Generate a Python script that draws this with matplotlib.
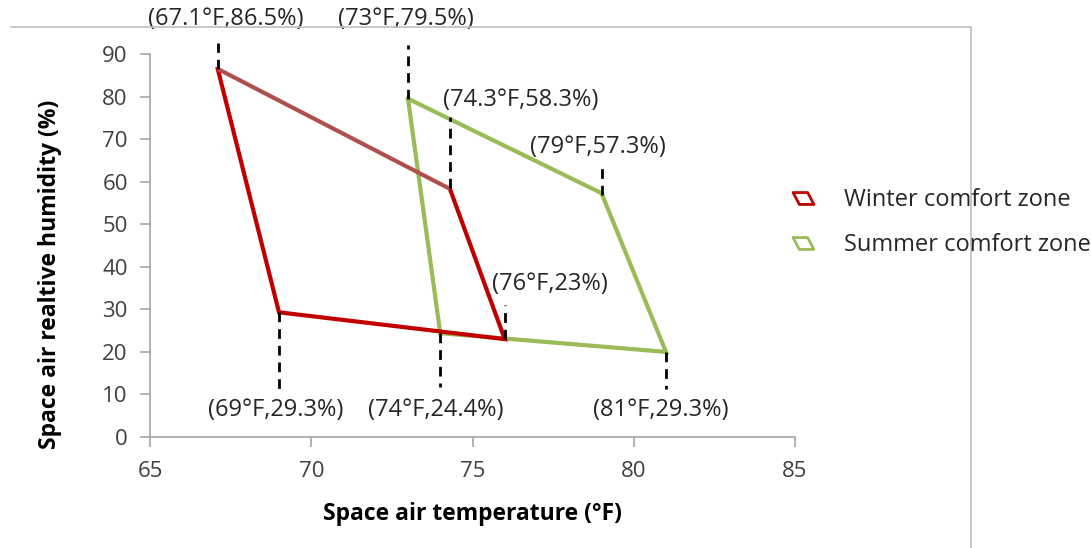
import matplotlib
matplotlib.use("Agg")
import matplotlib.pyplot as plt
from matplotlib.lines import Line2D
from matplotlib.path import Path

plt.rcParams['font.family'] = ['Open Sans', 'DejaVu Sans']

# Winter comfort zone corners (temperature °F, RH %)
winter_t = [67.1, 69.0, 76.0, 74.3]
winter_rh = [86.5, 29.3, 23.0, 58.3]
# Summer comfort zone corners
summer_t = [73.0, 79.0, 81.0, 74.0]
summer_rh = [79.5, 57.3, 20.0, 24.4]

# Annotation labels
labels = ["(67.1°F,86.5%)", "(73°F,79.5%)", "(74.3°F,58.3%)", "(79°F,57.3%)",
          "(76°F,23%)", "(69°F,29.3%)", "(74°F,24.4%)", "(81°F,29.3%)"]
label_x = [67.36, 72.94, 76.5, 78.9, 77.4, 68.9, 73.87, 80.85]
label_y = [98.2, 98.2, 79.2, 68.1, 35.9, 6.3, 6.3, 6.3]

# Dashed leader lines: x, y-start, y-end
lead_x = [67.1, 73.0, 74.3, 79.0, 76.0, 69.0, 74.0, 81.0]
lead_y0 = [86.5, 79.5, 58.5, 56.9, 23.0, 29.3, 24.4, 20.0]
lead_y1 = [92.6, 92.1, 75.2, 63.2, 31.0, 10.8, 11.7, 11.3]

legend_labels = ["Winter comfort zone", "Summer comfort zone"]

RED = '#C00000'
BROWN = '#B0504D'
GREEN = '#9BBB59'
W, H = 1091, 548

fig = plt.figure(figsize=(W/100, H/100), dpi=100)
ax = fig.add_axes([150/W, 1-437/H, 645/W, 383/H])

# Summer zone (drawn first)
st = summer_t + [summer_t[0]]
sr = summer_rh + [summer_rh[0]]
ax.plot(st, sr, color=GREEN, lw=3, solid_joinstyle='miter', zorder=2)

# Winter zone
ax.plot(winter_t, winter_rh, color=RED, lw=3, solid_joinstyle='miter', zorder=3)
ax.plot([winter_t[3], winter_t[0]], [winter_rh[3], winter_rh[0]], color=BROWN, lw=3,
        solid_capstyle='butt', zorder=3)

for x, y0, y1 in zip(lead_x, lead_y0, lead_y1):
    ax.plot([x, x], [y0, y1], color='black', lw=2.0, ls=(0, (3.5, 2.5)), clip_on=False, zorder=4)

for s, x, y in zip(labels, label_x, label_y):
    ax.text(x, y, s, ha='center', va='center', fontsize=17, color='#262626', clip_on=False)

ax.set_xlim(65, 85)
ax.set_ylim(0, 90)
ax.set_xticks([65, 70, 75, 80, 85])
ax.set_yticks(range(0, 91, 10))
for sp in ['top', 'right']:
    ax.spines[sp].set_visible(False)
for sp in ['left', 'bottom']:
    ax.spines[sp].set_color('#A6A6A6')
    ax.spines[sp].set_linewidth(1.2)
ax.tick_params(axis='both', colors='#A6A6A6', labelcolor='#404040', labelsize=16,
               length=7, width=1.2)
ax.tick_params(axis='x', pad=10)
ax.tick_params(axis='y', pad=9)
ax.set_xlabel("Space air temperature (°F)", fontsize=16.5, fontweight='bold')
ax.set_ylabel("Space air realtive humidity (%)", fontsize=16.5, fontweight='bold')
ax.xaxis.set_label_coords(0.5, (437-514)/383)
ax.xaxis.label.set_va('center')
ax.yaxis.set_label_coords((50-150)/645, (437-274)/383)
ax.yaxis.label.set_va('center')

para = Path([(-1.0, 0.57), (0.4, 0.57), (1.0, -0.57), (-0.4, -0.57), (-1.0, 0.57)],
            [Path.MOVETO, Path.LINETO, Path.LINETO, Path.LINETO, Path.CLOSEPOLY])
handles = [Line2D([], [], ls='none', marker=para, markersize=15, markerfacecolor='none',
                  markeredgecolor=RED, markeredgewidth=2),
           Line2D([], [], ls='none', marker=para, markersize=15, markerfacecolor='none',
                  markeredgecolor=GREEN, markeredgewidth=2)]
fig.legend(handles, legend_labels, loc='upper left',
           bbox_to_anchor=(791/W, 1-188/H), frameon=False, fontsize=17, borderpad=0,
           borderaxespad=0, handlelength=1.0, handletextpad=1.24, labelspacing=0.9,
           labelcolor='#262626')

# chart frame
fig.add_artist(Line2D([11/W, 971/W, 971/W], [1-27/H, 1-27/H, 0],
                      transform=fig.transFigure, color='#BFBFBF', lw=1.2))

fig.savefig("out.png", dpi=100)
